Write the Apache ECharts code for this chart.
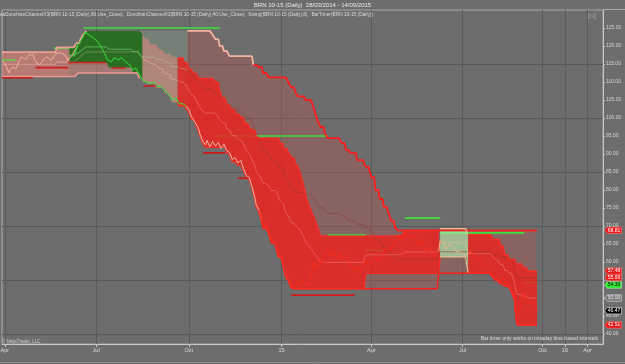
<!DOCTYPE html>
<html><head><meta charset="utf-8">
<script src="https://cdn.jsdelivr.net/npm/echarts@6/dist/echarts.min.js"></script>
<style>html,body{margin:0;padding:0;background:#6d6d6d;overflow:hidden}#c{width:625px;height:364px}</style>
</head><body><div id="c"></div>
<script>
// ================= DATA =================
const chartTitle = 'BRN 10-15 (Daily)  28/03/2014 - 14/09/2015';
const indicatorText = 'asDonchianChannelX3(BRN 10-15 (Daily),80,Use_Close),  DonchianChannelX2(BRN 10-15 (Daily),40,Use_Close),  Swing(BRN 10-15 (Daily),8),  BarTimer(BRN 10-15 (Daily))';
const timerNote = 'Bar timer only works on intraday time based intervals';
const copyright = '\u00A9 NinjaTrader, LLC';

const firstBar = '2014-03-28';
const lastBar = '2015-09-14';
const axisEnd = '2016-06-03';
const futureStep = 4;            // empty future slots: one every 4 weekdays
const monthNames = ['Jan','Feb','Mar','Apr','May','Jun','Jul','Aug','Sep','Oct','Nov','Dec'];
const quarterMonths = [1, 4, 7, 10];
const yMin = 37.22, yMax = 130;
const yTickValues = [40,45,50,55,60,65,70,75,80,85,90,95,100,105,110,115,120,125];
const yGridValues = [40,55,70,85,100,115];

const closePrice = [
['2014-03-28',116.0],['2014-04-01',115.3],['2014-04-04',112.5],['2014-04-07',113.5],['2014-04-09',114.2],['2014-04-11',113.6],['2014-04-15',115.8],['2014-04-17',117.0],['2014-04-22',116.2],['2014-04-24',117.5],['2014-04-29',117.6],['2014-05-01',115.5],['2014-05-06',114.8],['2014-05-09',116.5],['2014-05-13',117.0],['2014-05-16',116.0],['2014-05-21',117.8],['2014-05-26',118.2],['2014-05-30',117.5],['2014-06-03',116.0],['2014-06-06',117.5],['2014-06-09',117.0],['2014-06-12',120.3],['2014-06-17',122.0],['2014-06-19',123.8],['2014-06-20',124.2],['2014-06-24',123.1],['2014-06-27',122.3],['2014-07-02',121.2],['2014-07-07',119.5],['2014-07-09',118.0],['2014-07-11',116.2],['2014-07-16',115.6],['2014-07-18',116.8],['2014-07-23',116.1],['2014-07-25',116.8],['2014-07-30',115.6],['2014-08-04',114.7],['2014-08-06',113.3],['2014-08-08',113.9],['2014-08-13',112.0],['2014-08-15',110.6],['2014-08-18',110.3],['2014-08-22',109.5],['2014-08-27',110.0],['2014-09-01',108.6],['2014-09-03',109.0],['2014-09-08',107.5],['2014-09-11',106.5],['2014-09-15',105.0],['2014-09-18',105.5],['2014-09-22',104.0],['2014-09-25',103.9],['2014-09-29',103.3],
['2014-10-01',102.5],['2014-10-03',100.3],['2014-10-08',98.5],['2014-10-10',97.0],['2014-10-13',95.5],['2014-10-15',93.5],['2014-10-17',92.5],['2014-10-20',93.8],['2014-10-22',92.0],['2014-10-24',93.5],['2014-10-28',92.2],['2014-10-30',93.2],['2014-11-03',91.5],['2014-11-05',92.8],['2014-11-07',91.0],['2014-11-11',90.5],['2014-11-13',88.5],['2014-11-17',89.0],['2014-11-19',87.5],['2014-11-21',88.3],['2014-11-25',86.0],['2014-11-27',84.0],['2014-12-01',83.5],['2014-12-03',81.0],['2014-12-05',78.0],['2014-12-08',76.0],['2014-12-10',74.5],['2014-12-12',72.0],['2014-12-15',70.0],['2014-12-17',71.0],['2014-12-19',68.5],['2014-12-23',66.0],['2014-12-26',65.0],['2014-12-30',62.0],
['2015-01-02',60.0],['2015-01-06',56.5],['2015-01-08',55.5],['2015-01-12',53.5],['2015-01-14',52.8],['2015-01-16',54.5],['2015-01-20',53.5],['2015-01-22',55.0],['2015-01-26',53.8],['2015-01-28',53.3],['2015-01-30',56.0],['2015-02-03',60.0],['2015-02-05',58.0],['2015-02-09',61.0],['2015-02-11',59.5],['2015-02-13',62.5],['2015-02-17',63.5],['2015-02-19',61.5],['2015-02-23',63.0],['2015-02-26',61.0],['2015-03-02',62.5],['2015-03-04',61.0],['2015-03-06',62.0],['2015-03-10',59.5],['2015-03-12',59.0],['2015-03-16',57.5],['2015-03-18',58.5],['2015-03-20',57.0],['2015-03-24',58.5],['2015-03-26',60.5],['2015-03-30',59.0],
['2015-04-01',60.0],['2015-04-06',61.5],['2015-04-08',60.0],['2015-04-13',62.0],['2015-04-15',63.5],['2015-04-17',64.0],['2015-04-21',63.5],['2015-04-23',65.5],['2015-04-27',66.0],['2015-04-29',67.0],['2015-05-01',66.0],['2015-05-05',68.5],['2015-05-07',67.0],['2015-05-11',66.5],['2015-05-13',67.5],['2015-05-15',66.0],['2015-05-19',64.5],['2015-05-21',66.0],['2015-05-25',64.0],['2015-05-27',62.5],['2015-05-29',64.0],['2015-06-02',63.0],['2015-06-04',61.5],['2015-06-08',63.0],['2015-06-09',66.0],['2015-06-12',65.0],['2015-06-15',63.5],['2015-06-18',65.0],['2015-06-22',64.0],['2015-06-24',63.0],['2015-06-29',62.8],['2015-07-02',62.0],['2015-07-06',61.5],
['2015-07-07',62.5],['2015-07-10',63.0],['2015-07-14',61.0],['2015-07-17',60.5],['2015-07-21',59.5],['2015-07-24',58.5],['2015-07-28',57.5],['2015-07-31',56.5],['2015-08-04',55.5],['2015-08-07',54.5],['2015-08-11',55.5],['2015-08-13',54.0],['2015-08-17',53.5],['2015-08-19',52.0],['2015-08-21',50.5],['2015-08-24',47.0],['2015-08-26',45.5],['2015-08-28',49.5],['2015-09-01',51.5],['2015-09-03',49.0],['2015-09-07',48.5],['2015-09-09',49.5],['2015-09-11',47.8],['2015-09-14',46.47]
];

// Donchian 80 (outer) – step breakpoints
const upper80 = [
['2014-03-28',118.3],['2014-05-22',119.6],['2014-06-11',120.8],['2014-06-16',122.0],['2014-06-18',123.2],['2014-06-20',124.2],['2014-10-24',123.1],['2014-10-28',121.9],['2014-10-31',120.0],['2014-11-05',118.6],['2014-11-11',117.2],['2014-12-04',114.7],['2014-12-09',114.2],['2014-12-15',112.5],['2014-12-19',111.3],['2015-01-08',110.0],['2015-01-12',108.5],['2015-01-15',107.0],['2015-01-19',106.0],['2015-01-26',105.0],['2015-02-02',104.0],['2015-02-04',101.5],['2015-02-06',99.0],['2015-02-10',97.5],['2015-02-13',95.8],['2015-02-17',94.4],['2015-03-03',93.0],['2015-03-06',91.1],['2015-03-11',90.3],['2015-03-18',88.3],['2015-03-26',86.4],['2015-04-01',83.6],['2015-04-06',80.0],['2015-04-09',77.5],['2015-04-14',75.3],['2015-04-17',74.0],['2015-04-21',71.5],['2015-04-24',69.5],['2015-04-28',68.81]
];
const lower80 = [
['2014-03-28',111.5],['2014-06-12',112.5],['2014-08-13',111.0],['2014-08-15',110.0],['2014-08-20',109.5],['2014-08-28',108.5],['2014-09-03',108.3],['2014-09-08',106.8],['2014-09-11',105.8],['2014-09-15',104.3],['2014-09-22',103.3],['2014-09-29',102.6],['2014-10-01',101.5],['2014-10-03',99.5],['2014-10-08',97.8],['2014-10-10',96.2],['2014-10-13',94.8],['2014-10-15',92.8],['2014-10-17',91.8],['2014-11-07',90.3],['2014-11-11',89.8],['2014-11-13',87.8],['2014-11-19',86.8],['2014-11-25',85.3],['2014-11-27',83.3],['2014-12-01',82.8],['2014-12-03',80.3],['2014-12-05',77.3],['2014-12-08',75.3],['2014-12-10',73.8],['2014-12-12',71.3],['2014-12-15',69.3],['2014-12-19',67.8],['2014-12-23',65.3],['2014-12-26',64.3],['2014-12-30',61.3],['2015-01-02',59.3],['2015-01-06',55.8],['2015-01-08',54.8],['2015-01-12',52.8],['2015-01-14',52.6],['2015-06-08',56.9],['2015-07-30',56.0],['2015-08-03',55.0],['2015-08-06',54.0],['2015-08-12',53.3],['2015-08-18',52.5],['2015-08-20',50.5],['2015-08-21',49.5],['2015-08-24',44.5],['2015-08-25',42.51]
];
// Donchian 40 (inner)
const upper40 = [
['2014-03-28',118.3],['2014-05-22',119.6],['2014-06-11',120.8],['2014-06-16',122.0],['2014-06-18',123.2],['2014-06-20',124.2],['2014-08-15',123.3],['2014-08-19',122.0],['2014-08-25',120.5],['2014-09-02',119.0],['2014-09-08',117.8],['2014-09-15',117.0],['2014-09-19',116.7],['2014-09-26',115.3],['2014-10-01',113.5],['2014-10-06',112.5],['2014-10-10',111.0],['2014-10-28',110.0],['2014-10-31',107.5],['2014-11-04',105.5],['2014-11-07',103.6],['2014-11-12',102.5],['2014-11-18',101.0],['2014-11-21',100.2],['2014-11-26',98.5],['2014-12-01',97.5],['2014-12-03',96.7],['2014-12-08',95.0],['2014-12-10',94.4],['2014-12-31',93.0],['2015-01-05',91.5],['2015-01-08',90.5],['2015-01-12',89.0],['2015-01-15',87.5],['2015-01-19',86.4],['2015-01-21',84.0],['2015-01-23',81.0],['2015-01-27',77.5],['2015-01-29',75.5],['2015-02-02',73.5],['2015-02-04',71.7],['2015-02-06',69.5],['2015-02-10',67.2],['2015-04-29',67.5],['2015-05-05',68.8],['2015-06-09',69.3],['2015-07-07',67.6],['2015-07-31',66.3],['2015-08-07',64.5],['2015-08-12',62.0],['2015-08-17',60.8],['2015-08-24',59.5],['2015-08-31',58.5],['2015-09-04',57.48]
];
const lower40 = [
['2014-03-28',111.5],['2014-06-04',115.3],['2014-07-14',114.0],['2014-08-06',112.8],['2014-08-13',111.0],['2014-08-15',110.0],['2014-08-20',109.5],['2014-08-28',108.5],['2014-09-03',108.3],['2014-09-08',106.8],['2014-09-11',105.8],['2014-09-15',104.3],['2014-09-22',103.3],['2014-09-29',102.6],['2014-10-01',101.5],['2014-10-03',99.5],['2014-10-08',97.8],['2014-10-10',96.2],['2014-10-13',94.8],['2014-10-15',92.8],['2014-10-17',91.8],['2014-11-07',90.3],['2014-11-11',89.8],['2014-11-13',87.8],['2014-11-19',86.8],['2014-11-25',85.3],['2014-11-27',83.3],['2014-12-01',82.8],['2014-12-03',80.3],['2014-12-05',77.3],['2014-12-08',75.3],['2014-12-10',73.8],['2014-12-12',71.3],['2014-12-15',69.3],['2014-12-19',67.8],['2014-12-23',65.3],['2014-12-26',64.3],['2014-12-30',61.3],['2015-01-02',59.3],['2015-01-06',55.8],['2015-01-08',54.8],['2015-01-12',52.8],['2015-01-14',52.6],['2015-03-26',56.8],['2015-06-09',61.4],['2015-07-07',57.0],['2015-07-30',56.0],['2015-08-03',55.0],['2015-08-06',54.0],['2015-08-12',53.3],['2015-08-18',52.5],['2015-08-20',50.5],['2015-08-21',49.5],['2015-08-24',44.5],['2015-08-25',42.51]
];

// trend phases (start date, state)
const trend80 = [['2014-03-28','pink'],['2014-08-15','greenGray'],['2014-09-30','redGray']];
const trend40 = [['2014-03-28','pink'],['2014-06-04','green'],['2014-08-15','pinkMid'],['2014-09-19','red'],['2015-06-09','lightGreen'],['2015-07-07','red']];
const priceTrend = [['2014-03-28','salmon'],['2014-06-09','green'],['2014-09-29','salmon'],['2014-12-10','red'],['2015-06-08','tan'],['2015-07-07','red']];
const upper80LineTrend = [['2014-03-28','pink'],['2014-06-20','none'],['2014-09-30','salmon'],['2014-12-04','red']];
const lower80LineTrend = [['2014-03-28','pink'],['2014-08-13','none'],['2014-12-10','red']];

// swing lines [from, to, value]
const swingHighs = [
['2014-03-28','2014-04-11',116.1],['2014-05-20','2014-06-12',119.4],['2014-06-18','2014-10-31',125.0],['2014-10-28','2015-02-17',95.0],['2015-02-17','2015-03-26',67.5],['2015-03-26','2015-04-13',63.3],['2015-05-05','2015-06-09',72.2],['2015-06-09','2015-09-01',68.1],['2015-08-31','2015-09-14',54.3]
];
const swingLows = [
['2014-03-28','2014-04-29',111.2],['2014-05-01','2014-06-03',114.0],['2014-06-03','2014-07-10',115.4],['2014-07-16','2014-07-30',113.9],['2014-08-18','2014-08-29',108.9],['2014-10-15','2014-11-06',90.3],['2014-11-19','2014-11-28',83.3],['2015-01-12','2015-03-16',50.8]
];

// last value tags on the price axis
const lastValueTags = [[68.81,'red'],[57.48,'red'],[55.66,'red'],[54.30,'green'],[50.00,'gray'],[46.47,'black'],[42.51,'red']];

// ================= STYLES =================
const fill80 = {pink:'rgba(240,135,125,0.42)', greenGray:'rgba(165,225,165,0.17)', redGray:'rgba(205,80,70,0.28)'};
const fill40 = {pink:'rgba(240,135,125,0.22)', green:'rgba(22,108,22,0.86)', pinkMid:'rgba(236,140,125,0.5)', red:'rgba(236,34,30,0.82)', lightGreen:'rgba(178,240,178,0.62)'};
const priceColors = {salmon:'#f6b09c', green:'#33e633', red:'#ff2a1c', tan:'#e9b88e'};
const upper80Colors = {pink:'rgba(245,165,150,0.9)', salmon:'#f4b59e', red:'#ff1c1c'};
const lower80Colors = {pink:'rgba(245,160,145,0.9)', red:'#ff1c1c'};
const band40Colors = {red:'#ff2a22', lightGreen:'#e2c08e'};
const mid80Colors = {pink:'rgba(250,180,170,0.45)', greenGray:'rgba(170,230,170,0.45)', redGray:'rgba(150,55,50,0.7)'};
const mid40Colors = {pink:'rgba(250,180,170,0.45)', green:'rgba(120,220,120,0.75)', pinkMid:'rgba(255,185,170,0.6)', red:'rgba(255,170,160,0.45)', lightGreen:'rgba(230,200,150,0.7)'};
const tagStyle = {
  red:{bg:'#e8191a', border:'#ff8080', text:'#ffffff', dy:0},
  green:{bg:'#33e633', border:'#aaffaa', text:'#000000', dy:2.5},
  gray:{bg:'#7a7a7a', border:'#e0e0e0', text:'#e8e8e8', dy:0},
  black:{bg:'#000000', border:'#ffffff', text:'#ffffff', dy:0}
};
const FONT = 'Liberation Sans, Arial, sans-serif';

// ================= BUILD =================
const DAY = 86400000;
const ms = s => { const [y,m,d] = s.split('-').map(Number); return Date.UTC(y, m-1, d); };
const fmt = t => new Date(t).toISOString().slice(0,10);
const isWeekday = t => { const w = new Date(t).getUTCDay(); return w > 0 && w < 6; };
const cats = [];
for (let t = ms(firstBar); t <= ms(lastBar); t += DAY) if (isWeekday(t)) cats.push(fmt(t));
const nBars = cats.length;
{ let k = 0; for (let t = ms(lastBar) + DAY; t <= ms(axisEnd); t += DAY) if (isWeekday(t)) { if (k % futureStep === futureStep - 1) cats.push(fmt(t)); k++; } }
const N = cats.length;
const catMs = cats.map(ms);
function idx(date) { const t = ms(date); for (let i = 0; i < N; i++) if (catMs[i] >= t) return i; return N - 1; }

const quarterStart = cats.map((c, i) => {
  if (i === 0) return false;
  const m = +c.slice(5,7), pm = +cats[i-1].slice(5,7);
  return m !== pm && quarterMonths.includes(m);
});
const isQ = i => quarterStart[i];
const qLabel = v => { const m = +v.slice(5,7); return m === 1 ? v.slice(2,4) : monthNames[m-1]; };

function hold(points) {
  const pts = points.map(p => [idx(p[0]), p[1]]);
  const out = new Array(N).fill(null);
  let j = 0;
  for (let i = 0; i < nBars; i++) {
    while (j + 1 < pts.length && pts[j+1][0] <= i) j++;
    if (pts[j][0] <= i) out[i] = pts[j][1];
  }
  return out;
}
function ranges(phases) {
  return phases.map((p, k) => ({a: idx(p[0]), b: k + 1 < phases.length ? idx(phases[k+1][0]) : nBars - 1, kind: p[1]}));
}
const U80 = hold(upper80), L80 = hold(lower80), U40 = hold(upper40), L40 = hold(lower40);
const M80 = U80.map((v, i) => v == null ? null : (v + L80[i]) / 2);
const M40 = U40.map((v, i) => v == null ? null : (v + L40[i]) / 2);

const series = [];
// horizontal grid lines (kept beneath everything)
series.push({type:'line', data: cats.map(() => null), silent: true, z: 1,
  markLine: {silent: true, symbol: 'none', label: {show: false}, animation: false, z: 1,
    lineStyle: {color: '#5a5a5a', type: 'solid', width: 1},
    data: yGridValues.map(v => ({yAxis: v}))}});

function addFill(lo, hi, phases, palette, key, z) {
  ranges(phases).forEach((r, k) => {
    const col = palette[r.kind]; if (!col) return;
    const inR = i => i >= r.a && i <= r.b;
    series.push({type:'line', stack: key + k, data: cats.map((_, i) => inR(i) ? lo[i] : null), symbol:'none', silent:true, lineStyle:{width:0, opacity:0}, z});
    series.push({type:'line', stack: key + k, data: cats.map((_, i) => inR(i) ? +(hi[i] - lo[i]).toFixed(4) : null), symbol:'none', silent:true, lineStyle:{width:0, opacity:0}, areaStyle:{color: col, opacity: 1}, z});
  });
}
function addLine(arr, phases, palette, width, z) {
  ranges(phases).forEach(r => {
    const col = palette[r.kind]; if (!col) return;
    series.push({type:'line', data: cats.map((_, i) => i >= r.a && i <= r.b ? arr[i] : null), symbol:'none', silent:true, lineStyle:{color: col, width}, z});
  });
}
function addSwings(list, color, width, z) {
  list.forEach(s => series.push({type:'line', data: [[idx(s[0]), s[2]], [idx(s[1]), s[2]]], symbol:'none', silent:true, lineStyle:{color, width}, z}));
}

addFill(L80, U80, trend80, fill80, 'x3_', 12);
addSwings(swingHighs, '#3ee03e', 1.6, 13);
addFill(L40, U40, trend40, fill40, 'x2_', 14);
addLine(M80, trend80, mid80Colors, 0.8, 15);
addLine(M40, trend40, mid40Colors, 0.8, 15);
addLine(U80, upper80LineTrend, upper80Colors, 1.8, 16);
addLine(L80, lower80LineTrend, lower80Colors, 1.5, 16);
addLine(U40, trend40, band40Colors, 1.2, 16);
addLine(L40, trend40, band40Colors, 1.2, 16);
addSwings(swingLows, '#d01a1a', 1.6, 17);

const pricePts = closePrice.map(p => [idx(p[0]), p[1]]);
ranges(priceTrend).forEach(r => {
  const pts = pricePts.filter(p => p[0] >= r.a && p[0] <= r.b);
  const nxt = pricePts.find(p => p[0] > r.b);
  if (nxt && r.b < nBars - 1) pts.push(nxt);
  series.push({type:'line', data: pts, symbol:'none', silent:true, lineStyle:{color: priceColors[r.kind], width: 1}, z: 18});
});

// price-axis tags
series.push({type:'line', data: cats.map(() => null), silent: true, z: 30,
  markPoint: {silent: true, animation: false, z: 30,
    data: lastValueTags.map(([v, kind]) => ({
      coord: [N - 1, v],
      symbol: 'path://M0,4 L3,0 L18,0 L18,8 L3,8 Z',
      symbolSize: [17, 6.5], symbolOffset: [10, tagStyle[kind].dy],
      itemStyle: {color: tagStyle[kind].bg, borderColor: tagStyle[kind].border, borderWidth: 0.5},
      label: {show: true, position: 'inside', formatter: v.toFixed(2), color: tagStyle[kind].text, fontSize: 5, fontFamily: FONT, offset: [1, 0]}
    }))}});

const chart = echarts.init(document.getElementById('c'), null, {renderer: 'canvas'});
chart.setOption({
  backgroundColor: '#6d6d6d',
  animation: false,
  textStyle: {fontFamily: FONT},
  title: [
    {text: chartTitle, left: 'center', top: 2, padding: 0, textStyle: {color: '#ececec', fontSize: 6, fontWeight: 'normal', fontFamily: FONT}},
    {text: indicatorText, left: 0, top: 12, padding: 0, textStyle: {color: '#dcdcdc', fontSize: 4.8, fontWeight: 'normal', fontFamily: FONT}},
    {text: timerNote, right: 27, top: 336, padding: 0, textStyle: {color: '#dcdcdc', fontSize: 5, fontWeight: 'normal', fontFamily: FONT}},
    {text: copyright, left: 2, top: 339, padding: 0, textStyle: {color: '#cfcfcf', fontSize: 4.5, fontWeight: 'normal', fontFamily: FONT}},
    {text: '\u25B7|', right: 29, top: 13, padding: 0, textStyle: {color: '#bdbdbd', fontSize: 7, fontWeight: 'normal', fontFamily: 'DejaVu Sans'}}
  ],
  grid: {left: 2, right: 22, top: 10, bottom: 20, show: true, borderColor: '#a9a9a9', borderWidth: 1, backgroundColor: 'transparent', outerBoundsMode: 'none'},
  xAxis: {type: 'category', data: cats, boundaryGap: false,
    axisLine: {lineStyle: {color: '#c8c8c8'}},
    axisTick: {interval: isQ, length: 3, lineStyle: {color: '#c8c8c8'}},
    axisLabel: {interval: isQ, formatter: qLabel, color: '#dcdcdc', fontSize: 5.5, margin: 3, fontFamily: FONT},
    splitLine: {show: true, interval: isQ, lineStyle: {color: '#5a5a5a', width: 1}}},
  yAxis: {type: 'value', position: 'right', min: yMin, max: yMax, scale: false,
    axisLine: {show: true, lineStyle: {color: '#c8c8c8'}},
    axisTick: {show: true, customValues: yTickValues, length: 2, lineStyle: {color: '#c8c8c8'}},
    axisLabel: {customValues: yTickValues, formatter: v => v.toFixed(2), color: '#d8d8d8', fontSize: 5, margin: 3, fontFamily: FONT},
    splitLine: {show: false}},
  graphic: [
    {type: 'line', shape: {x1: 0, y1: 362.5, x2: 625, y2: 362.5}, style: {stroke: '#8c8c8c', lineWidth: 1}, silent: true},
    {type: 'line', shape: {x1: 603, y1: 9.5, x2: 625, y2: 9.5}, style: {stroke: '#a9a9a9', lineWidth: 1}, silent: true}
  ],
  series
});
</script></body></html>
